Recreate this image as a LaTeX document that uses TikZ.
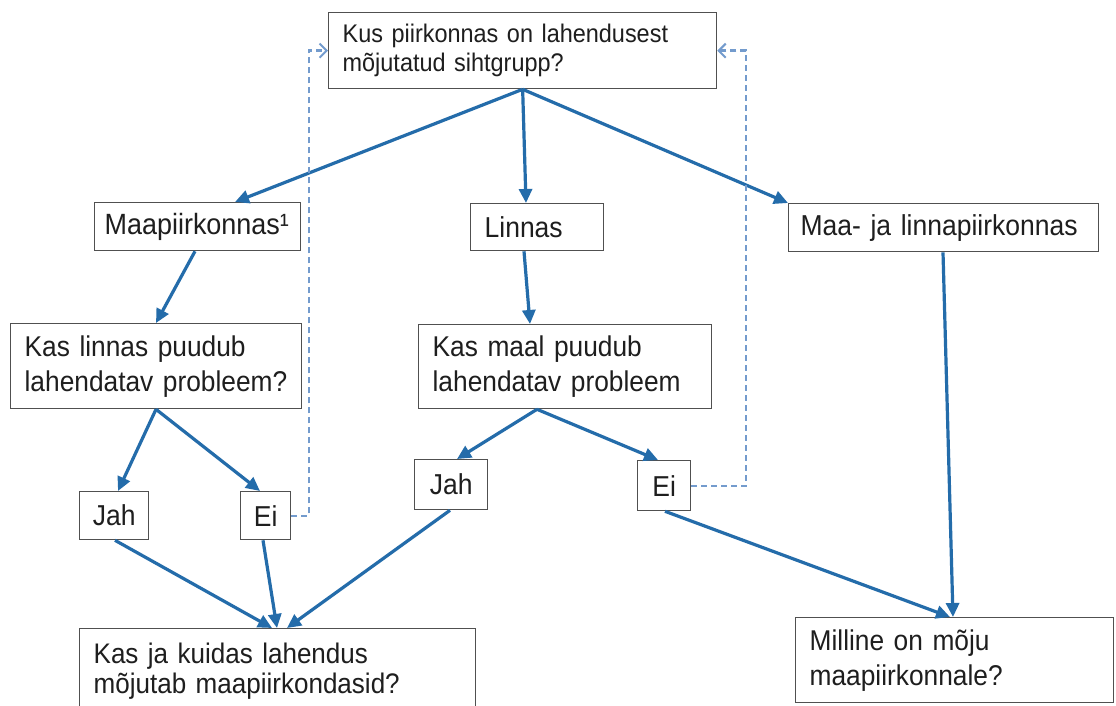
\documentclass[tikz,border=0pt]{standalone}
\usepackage{fontspec}
\setmainfont{Liberation Sans}[FakeStretch=0.92]
\usetikzlibrary{arrows.meta,calc}
\definecolor{flowblue}{RGB}{36,108,170}
\definecolor{dashblue}{RGB}{115,155,205}
\definecolor{boxgray}{RGB}{80,80,80}
\definecolor{txt}{RGB}{30,30,30}
\newcommand\fszTop{\fontsize{25.5}{29}\selectfont}
\newcommand\fszOne{\fontsize{28.8}{32}\selectfont}
\newcommand\fszTwo{\fontsize{28.6}{35}\selectfont}
\newcommand\fszKj{\fontsize{28.3}{30}\selectfont}
\tikzset{
  box/.style={draw=boxgray, line width=1.3pt, anchor=north west, align=left,
    inner ysep=0pt, text=txt,
    execute at begin node={\hyphenpenalty=10000\exhyphenpenalty=10000}},
  smallbox/.style={draw=boxgray, line width=1.3pt, anchor=north west, align=center,
    inner sep=0pt, text=txt, font=\fszOne},
  flow/.style={draw=flowblue, line width=3.2pt, -{Triangle[length=14pt,width=13pt]}},
  back/.style={draw=dashblue, line width=2.3pt, dash pattern=on 6pt off 4pt,
    -{Straight Barb[length=7pt,width=14pt,line width=2pt]}},
}
\begin{document}
\begin{tikzpicture}[x=1pt,y=-1pt]
\useasboundingbox (0,0) rectangle (1116,706);
\fill[white] (0,0) rectangle (1116,706);

% boxes
\node[box, font=\fszTop, minimum width=388pt, minimum height=76pt, inner xsep=14pt, text width=360pt] (top) at (328,12) {Kus piirkonnas on lahendusest\\mõjutatud sihtgrupp?};
\node[box, font=\fontsize{29.3}{32}\selectfont, minimum width=206pt, minimum height=48pt, inner xsep=10pt, text width=186pt] (maapi) at (94,202) {Maapiirkonnas¹};
\node[box, font=\fszOne, minimum width=133pt, minimum height=47pt, inner xsep=14pt, text width=105pt] (linnas) at (470,203) {Linnas};
\node[box, font=\fszOne, minimum width=310pt, minimum height=48pt, inner xsep=12pt, text width=286pt] (maaja) at (788,203) {Maa- ja linnapiirkonnas};
\node[box, font=\fszTwo, minimum width=291pt, minimum height=85pt, inner xsep=14pt, text width=263pt] (kaslinnas) at (10,323) {Kas linnas puudub\\lahendatav probleem?};
\node[box, font=\fszTwo, minimum width=293pt, minimum height=84pt, inner xsep=14pt, text width=265pt] (kasmaal) at (418,324) {Kas maal puudub\\lahendatav probleem};
\node[smallbox, minimum width=69pt, minimum height=48pt] (jah1) at (79,491) {Jah};
\node[smallbox, minimum width=50pt, minimum height=48pt] (ei1) at (240,491) {Ei};
\node[smallbox, minimum width=73pt, minimum height=50pt] (jah2) at (414,459) {Jah};
\node[smallbox, minimum width=53pt, minimum height=50pt] (ei2) at (637,460) {Ei};
\node[box, font=\fszKj, minimum width=396pt, minimum height=85pt, inner xsep=14pt, text width=368pt] (kasja) at (79,628) {Kas ja kuidas lahendus\\mõjutab maapiirkondasid?};
\node[box, font=\fszTwo, minimum width=318pt, minimum height=85pt, inner xsep=14pt, text width=290pt] (milline) at (795,617) {Milline on mõju\\maapiirkonnale?};

% solid connectors
\draw[flow] (top.south) -- ($(maapi.north west)+(141,0)$);
\draw[flow] (top.south) -- ($(linnas.north west)+(56,0)$);
\draw[flow] (top.south) -- (maaja.north west);
\draw[flow] ($(maapi.south west)+(101,0)$) -- ($(kaslinnas.north west)+(146,0)$);
\draw[flow] ($(linnas.south west)+(54,0)$) -- ($(kasmaal.north west)+(112,0)$);
\draw[flow] ($(kaslinnas.south west)+(146,0)$) -- ($(jah1.north west)+(39,0)$);
\draw[flow] ($(kaslinnas.south west)+(146,0)$) -- ($(ei1.north west)+(20,0)$);
\draw[flow] ($(kasmaal.south west)+(119,0)$) -- ($(jah2.north west)+(43,0)$);
\draw[flow] ($(kasmaal.south west)+(119,0)$) -- ($(ei2.north west)+(21,0)$);
\draw[flow] ($(jah1.south west)+(36,0)$) -- ($(kasja.north west)+(193,0)$);
\draw[flow] ($(ei1.south west)+(23,0)$) -- ($(kasja.north west)+(198,0)$);
\draw[flow] ($(jah2.south west)+(36,0)$) -- ($(kasja.north west)+(208,0)$);
\draw[flow] ($(ei2.south west)+(28,0)$) -- ($(milline.north west)+(155,0)$);
\draw[flow] ($(maaja.south west)+(155,0)$) -- ($(milline.north west)+(158,0)$);

% dashed feedback connectors
\draw[back] (ei1.east) -| ($(top.west)+(-19,0)$) -- (top.west);
\draw[back] (ei2.east) -| ($(top.east)+(29,0)$) -- (top.east);
\end{tikzpicture}
\end{document}
